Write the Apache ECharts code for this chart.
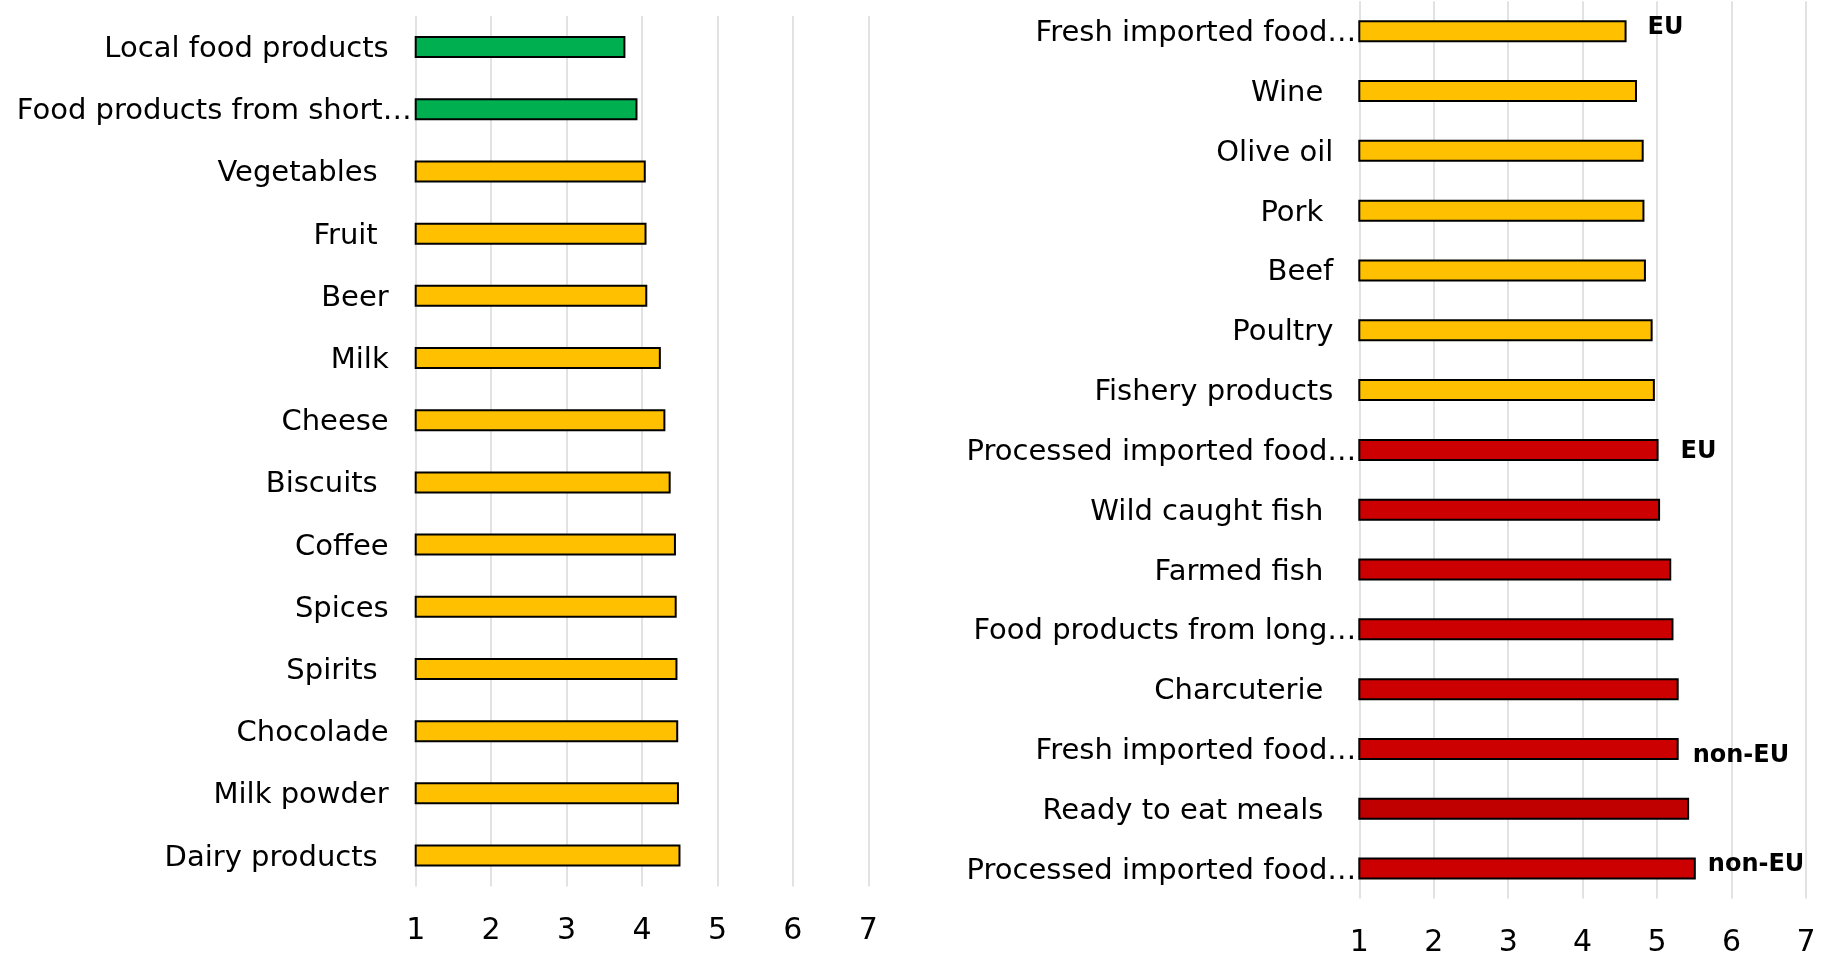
<!DOCTYPE html>
<html>
<head>
<meta charset="utf-8">
<script src="https://cdn.jsdelivr.net/npm/echarts@6/dist/echarts.min.js"></script>
<style>
  html, body { margin: 0; padding: 0; background: #ffffff; }
  #chart { width: 1832px; height: 958px; }
</style>
</head>
<body>
<div id="chart"></div>
<script>
// Left panel: products rated lower on the 1–7 scale
const leftCategories = [
  'Local food products', 'Food products from short…', 'Vegetables', 'Fruit', 'Beer',
  'Milk', 'Cheese', 'Biscuits', 'Coffee', 'Spices', 'Spirits', 'Chocolade',
  'Milk powder', 'Dairy products'
];
const leftValues = [3.78, 3.94, 4.05, 4.06, 4.07, 4.25, 4.31, 4.38, 4.45, 4.46, 4.47, 4.48, 4.49, 4.51];
const leftGroups = ['low', 'low', 'mid', 'mid', 'mid', 'mid', 'mid', 'mid', 'mid', 'mid', 'mid', 'mid', 'mid', 'mid'];

// Right panel: products rated higher on the 1–7 scale
const rightCategories = [
  'Fresh imported food…', 'Wine', 'Olive oil', 'Pork', 'Beef', 'Poultry', 'Fishery products',
  'Processed imported food…', 'Wild caught fish', 'Farmed fish', 'Food products from long…',
  'Charcuterie', 'Fresh imported food…', 'Ready to eat meals', 'Processed imported food…'
];
const rightValues = [4.59, 4.73, 4.82, 4.83, 4.85, 4.94, 4.97, 5.02, 5.04, 5.19, 5.22, 5.29, 5.29, 5.43, 5.52];
const rightGroups = ['mid', 'mid', 'mid', 'mid', 'mid', 'mid', 'mid', 'high', 'high', 'high', 'high', 'high', 'high', 'top', 'high'];
const rightTags = ['EU', '', '', '', '', '', '', 'EU', '', '', '', '', 'non-EU', '', 'non-EU'];

const scaleMin = 1;
const scaleMax = 7;

const groupColors = { low: '#00B050', mid: '#FFC000', high: '#CC0000', top: '#C00000' };
const FONT = 'DejaVu Sans';

// extra right padding of individual category labels
const leftInset = { 'Food products from short…': 0, 'Vegetables': 34, 'Fruit': 34, 'Biscuits': 34, 'Spirits': 34, 'Dairy products': 34 };
const rightInset = {
  'Fresh imported food…': 0, 'Processed imported food…': 0, 'Food products from long…': 0,
  'Olive oil': 23, 'Beef': 23, 'Poultry': 23, 'Fishery products': 23
};
function labelFmt(insets, dflt) {
  return function (v) {
    const p = (v in insets) ? insets[v] : dflt;
    return '{p' + p + '|' + v + '}';
  };
}
function richFor(insets, dflt) {
  const r = {};
  const vals = new Set(Object.values(insets).concat([dflt]));
  vals.forEach(p => {
    r['p' + p] = { fontFamily: FONT, fontSize: 29, color: '#000', padding: [5, p, 0, 0] };
  });
  return r;
}

// tag placement beside the bar end
const tagStyle = {
  'EU#0': { distance: 21, offset: [0, -3] },
  'EU#7': { distance: 22, offset: [0, 2] },
  'non-EU#12': { distance: 14, offset: [0, 7] },
  'non-EU#14': { distance: 12, offset: [0, -4] }
};

function barData(values, groups, tags) {
  return values.map((v, i) => {
    const item = {
      value: v,
      itemStyle: { color: groupColors[groups[i]], borderColor: '#000', borderWidth: 2 }
    };
    if (tags && tags[i]) {
      const st = tagStyle[tags[i] + '#' + i] || { distance: 15, offset: [0, 0] };
      item.label = {
        show: true, position: 'right', formatter: tags[i],
        distance: st.distance, offset: st.offset,
        fontFamily: FONT, fontWeight: 'bold', fontSize: 24, color: '#000'
      };
    }
    return item;
  });
}

function valueAxis(gridIndex) {
  return {
    type: 'value', gridIndex, min: scaleMin, max: scaleMax, interval: 1,
    axisLine: { show: false }, axisTick: { show: false },
    splitLine: { show: true, lineStyle: { color: '#D9D9D9', width: 1.5 } },
    axisLabel: { fontFamily: FONT, fontSize: 30, color: '#000', margin: 29.5 }
  };
}
function catAxis(gridIndex, cats, insets, dflt, margin) {
  return {
    type: 'category', gridIndex, data: cats, inverse: true,
    axisLine: { show: false }, axisTick: { show: false },
    axisLabel: {
      margin, interval: 0,
      formatter: labelFmt(insets, dflt), rich: richFor(insets, dflt)
    }
  };
}

const chart = echarts.init(document.getElementById('chart'), null, { renderer: 'canvas' });
chart.setOption({
  backgroundColor: '#ffffff',
  animation: false,
  textStyle: { fontFamily: FONT },
  grid: [
    { left: 415.7, top: 16, width: 452.6, height: 870.6, containLabel: false },
    { left: 1359.3, top: 1.3, width: 446.7, height: 897.8, containLabel: false }
  ],
  xAxis: [valueAxis(0), valueAxis(1)],
  yAxis: [
    catAxis(0, leftCategories, leftInset, 23, 4),
    catAxis(1, rightCategories, rightInset, 33, 3)
  ],
  series: [
    { type: 'bar', xAxisIndex: 0, yAxisIndex: 0, barWidth: 22, data: barData(leftValues, leftGroups, null) },
    { type: 'bar', xAxisIndex: 1, yAxisIndex: 1, barWidth: 22, data: barData(rightValues, rightGroups, rightTags) }
  ]
});
</script>
</body>
</html>
